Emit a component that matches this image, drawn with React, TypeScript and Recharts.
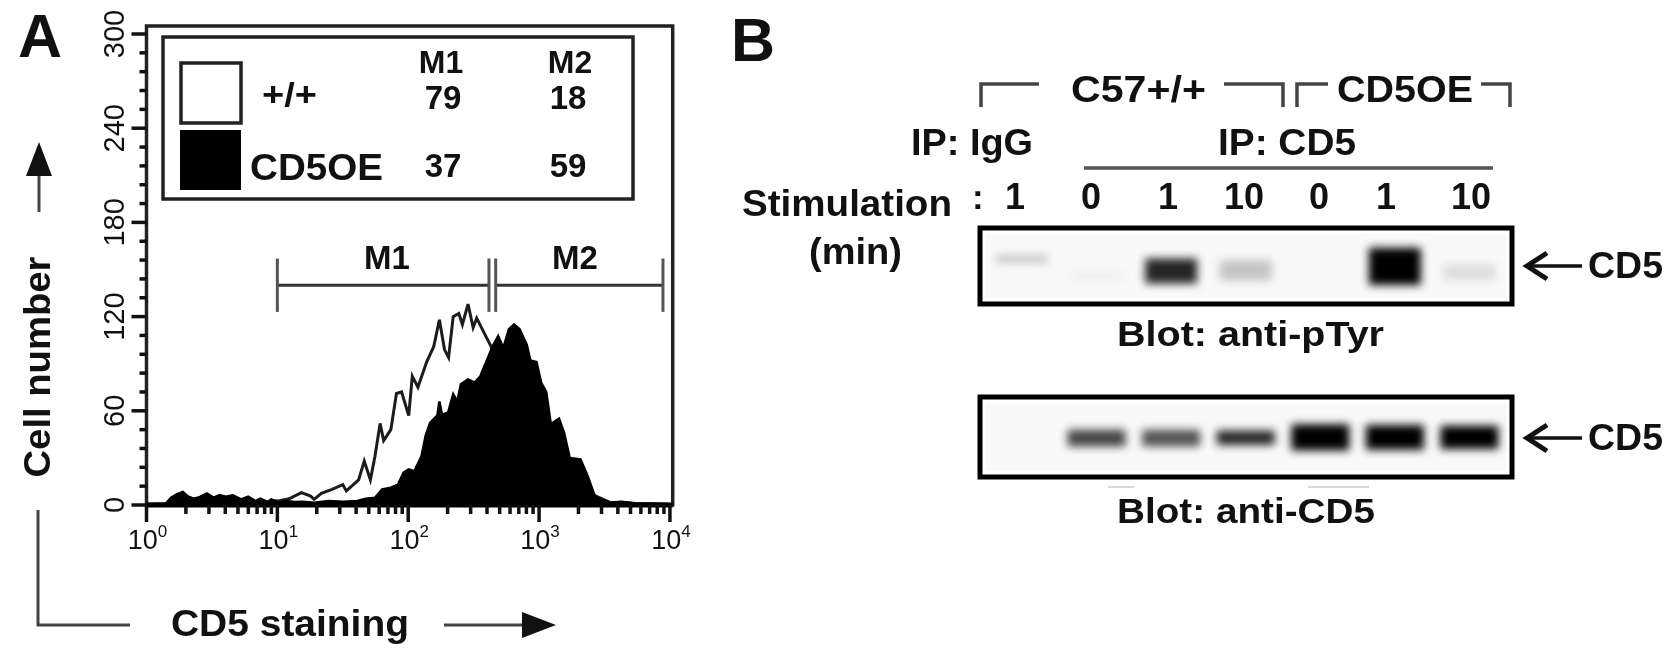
import React from 'react';
import {
  Area,
  Bar,
  BarChart,
  Cell,
  ComposedChart,
  ReferenceArea,
  ReferenceLine,
  XAxis,
  YAxis,
} from 'recharts';

const FONT = '"Liberation Sans", Arial, sans-serif';
const INK = '#111';

// Histogram outlines, as [channel, cells]. 256 channels per decade.
const wildTypeCurve = [
  [0, 0.4], [38, 0.8], [48, 4], [59, 6], [71, 7.5], [80, 5], [92, 3.5], [104, 4.5], [118, 6.5],
  [131, 4], [143, 5.5], [155, 4.5], [169, 5.5], [185, 3], [199, 4.5], [213, 2], [223, 3.5],
  [237, 1.5], [244, 3], [258, 2.5], [279, 4], [303, 7.9], [321, 5.7], [328, 3.6], [342, 7.4],
  [363, 10], [384, 13], [391, 9], [415, 16], [426, 28], [438, 16], [447, 31], [457, 52], [464, 41],
  [478, 48], [489, 71], [499, 72], [513, 57], [520, 82], [531, 75], [548, 91], [562, 101], [573, 118],
  [583, 99], [591, 94], [600, 120], [611, 122], [618, 115], [629, 128], [639, 113], [646, 119],
  [660, 110], [674, 101], [684, 93], [698, 80], [726, 60], [761, 45], [803, 31], [845, 18], [877, 6],
  [908, 1.5], [929, 1.9], [957, 1], [1024, 0.5],
];

const overexpressedCurve = [
  [0, 0.4], [38, 0.8], [48, 4.7], [59, 6.8], [71, 8.3], [80, 5.7], [92, 4], [104, 5], [118, 7.4],
  [131, 4.7], [143, 6.4], [155, 5.3], [169, 6.2], [185, 3.6], [199, 5.3], [213, 2.5], [223, 4],
  [237, 1.9], [244, 3.6], [258, 1.5], [272, 2.5], [290, 1.9], [307, 2.1], [328, 1.5], [356, 2.5],
  [384, 2.1], [412, 2.5], [429, 4], [447, 4.6], [461, 10], [478, 11], [492, 13], [503, 20.6],
  [513, 22.7], [524, 21.6], [538, 31], [546, 44], [555, 52.5], [569, 57], [573, 66], [578, 57.7],
  [590, 58.8], [600, 70.5], [608, 66], [615, 76.9], [629, 80], [642, 78], [653, 82], [667, 93],
  [677, 101], [688, 107.6], [698, 100], [709, 112], [719, 115], [730, 112], [744, 102], [751, 92],
  [763, 91], [772, 78], [782, 72], [791, 51.5], [807, 55], [817, 46], [828, 30], [849, 29],
  [863, 18.5], [877, 5.7], [887, 3.6], [908, 1.5], [929, 1.9], [957, 1], [1024, 0.5],
];

const toSeries = (curve: number[][]) =>
  curve.map(([channel, cells]) => ({ fluorescence: 10 ** (channel / 256), cells }));

const xTicks = [
  1, 2, 3, 4, 5, 6, 7, 8, 9,
  10, 20, 30, 40, 50, 60, 70, 80, 90,
  100, 200, 300, 400, 500, 600, 700, 800, 900,
  1000, 2000, 3000, 4000, 5000, 6000, 7000, 8000, 9000,
  10000,
];
const xMajor: Record<number, string> = { 1: '0', 10: '1', 100: '2', 1000: '3', 10000: '4' };
const yTicks = [
  0, 12, 24, 36, 48, 60, 72, 84, 96, 108, 120, 132, 144, 156, 168, 180, 192, 204, 216, 228, 240,
  252, 264, 276, 288, 300,
];

// marker gates on the histogram
const gateLevel = 140;
const gateCapLow = 123;
const gateCapHigh = 157;
const gateM1 = [10, 414];
const gateM2 = [466, 8850];

const legendHeader = ['M1', 'M2'];
const legendWild = ['79', '18'];
const legendOver = ['37', '59'];

// Blots: band extent as percent of the lane height, and darkness from 0 to 1
const lanes = ['IgG 1', 'C57 0', 'C57 1', 'C57 10', 'OE 0', 'OE 1', 'OE 10'];
const pTyrLow = [54, 31, 27, 31, 0, 25, 31];
const pTyrHigh = [64, 42, 60, 58, 0, 74, 52];
const pTyrDark = [0.2, 0.03, 0.85, 0.2, 0, 1, 0.1];
const cd5Low = [0, 38, 38, 40, 33, 34, 35];
const cd5High = [0, 59, 59, 58, 66, 65, 64];
const cd5Dark = [0, 0.72, 0.66, 0.85, 1, 1, 1];

const stimulationLabels = ['1', '0', '1', '10', '0', '1', '10'];
const stimulationX = [1015, 1091, 1168, 1244, 1319, 1386, 1471];

const XTick = ({ x, y, payload }: any) => {
  const exponent = xMajor[payload.value];
  return (
    <g>
      <line x1={x} x2={x} y1={y} y2={y + (exponent ? 17 : 9)} stroke={INK} strokeWidth={3.5} />
      {exponent && (
        <text x={x + 1} y={y + 44} textAnchor="middle" fontFamily={FONT} fontSize={27} fill={INK}>
          10
          <tspan fontSize={17} dy={-12}>
            {exponent}
          </tspan>
        </text>
      )}
    </g>
  );
};

const YTick = ({ x, y, payload }: any) => {
  const major = payload.value % 60 === 0;
  return (
    <g>
      <line x1={x - (major ? 15 : 7)} x2={x} y1={y} y2={y} stroke={INK} strokeWidth={3.5} />
      {major && (
        <text
          transform={`translate(${x - 23}, ${y}) rotate(-90)`}
          textAnchor="middle"
          fontFamily={FONT}
          fontSize={29}
          fill={INK}
        >
          {payload.value}
        </text>
      )}
    </g>
  );
};

const Histogram = () => (
  <ComposedChart width={700} height={659} margin={{ top: 26, right: 27.3, bottom: 0, left: 0 }}>
    <XAxis
      dataKey="fluorescence"
      type="number"
      scale="log"
      domain={[1, 10500]}
      ticks={xTicks}
      interval={0}
      height={154}
      axisLine={{ stroke: '#000', strokeWidth: 5 }}
      tickLine={false}
      tickSize={0}
      tickMargin={0}
      tick={<XTick />}
    />
    <YAxis
      type="number"
      domain={[0, 305.1]}
      ticks={yTicks}
      interval={0}
      width={146.5}
      axisLine={false}
      tickLine={false}
      tickSize={0}
      tickMargin={0}
      tick={<YTick />}
    />
    <Area
      data={toSeries(wildTypeCurve)}
      dataKey="cells"
      type="linear"
      fill="none"
      stroke="#1c1c1c"
      strokeWidth={3}
      isAnimationActive={false}
    />
    <Area
      data={toSeries(overexpressedCurve)}
      dataKey="cells"
      type="linear"
      fill="#000"
      fillOpacity={1}
      stroke="#000"
      strokeWidth={2.5}
      isAnimationActive={false}
    />
    <ReferenceArea x1={1} x2={10500} y1={0} y2={305.1} fill="none" stroke="#222" strokeWidth={3.5} />
    {[gateM1, gateM2].map((gate) => (
      <React.Fragment key={gate[0]}>
        <ReferenceLine
          segment={[{ x: gate[0], y: gateLevel }, { x: gate[1], y: gateLevel }]}
          stroke="#333"
          strokeWidth={3}
        />
        <ReferenceLine
          segment={[{ x: gate[0], y: gateCapLow }, { x: gate[0], y: gateCapHigh }]}
          stroke="#555"
          strokeWidth={3}
        />
        <ReferenceLine
          segment={[{ x: gate[1], y: gateCapLow }, { x: gate[1], y: gateCapHigh }]}
          stroke="#555"
          strokeWidth={3}
        />
      </React.Fragment>
    ))}
  </ComposedChart>
);

const Blot = ({ low, high, dark, barSize, style }: any) => {
  const table = lanes.map((lane, i) => ({ lane, band: [low[i], high[i]], dark: dark[i] }));
  return (
    <div style={{ position: 'absolute', ...style }}>
      <BarChart
        width={532}
        height={style.height}
        data={table}
        margin={{ top: 0, right: 5, bottom: 0, left: 5 }}
        barSize={barSize}
      >
        <XAxis dataKey="lane" hide />
        <YAxis type="number" domain={[0, 100]} hide />
        <ReferenceArea y1={8} y2={92} fill="#f4f4f4" stroke="none" />
        <Bar dataKey="band" isAnimationActive={false}>
          {table.map((row) => {
            const level = Math.round(245 * (1 - row.dark));
            return (
              <Cell
                key={row.lane}
                fill={`rgb(${level},${level},${level})`}
                style={{ filter: 'blur(4.5px)' }}
              />
            );
          })}
        </Bar>
      </BarChart>
    </div>
  );
};

const Label = ({ children, size = 36, weight = 'bold', fit, ...rest }: any) => (
  <text
    fontFamily={FONT}
    fontSize={size}
    fontWeight={weight}
    fill="#111"
    textLength={fit}
    lengthAdjust={fit ? 'spacingAndGlyphs' : undefined}
    {...rest}
  >
    {children}
  </text>
);

const Overlay = () => (
  <svg
    width={1677}
    height={659}
    style={{ position: 'absolute', left: 0, top: 0, pointerEvents: 'none' }}
  >
    {/* panel A */}
    <Label x={18} y={57} size={61}>A</Label>
    <rect x={163} y={37} width={470} height={162} fill="#fff" stroke="#222" strokeWidth={3.5} />
    <rect x={181} y={63} width={60} height={60} fill="#fff" stroke="#222" strokeWidth={3.5} />
    <rect x={180} y={130} width={61} height={60} fill="#000" />
    <Label x={262} y={106} size={33} fit={55}>+/+</Label>
    <Label x={250} y={180} size={37} fit={133}>CD5OE</Label>
    {legendHeader.map((t, i) => (
      <Label key={t} x={i ? 570 : 441} y={73} size={32} textAnchor="middle">{t}</Label>
    ))}
    {legendWild.map((t, i) => (
      <Label key={t} x={i ? 568 : 443} y={109} size={33} textAnchor="middle">{t}</Label>
    ))}
    {legendOver.map((t, i) => (
      <Label key={t} x={i ? 568 : 443} y={177} size={33} textAnchor="middle">{t}</Label>
    ))}
    <Label x={387} y={269} size={33} textAnchor="middle">M1</Label>
    <Label x={575} y={269} size={33} textAnchor="middle">M2</Label>

    <Label transform="translate(50, 367) rotate(-90)" textAnchor="middle" size={37} fit={221}>Cell number</Label>
    <Label x={171} y={636} size={37} fit={238}>CD5 staining</Label>
    <line x1={39} y1={212} x2={39} y2={150} stroke="#444" strokeWidth={3} />
    <path d="M39,142 L52,176 L26,176 Z" fill="#111" />
    <path d="M38,510 L38,625 L130,625" fill="none" stroke="#444" strokeWidth={3} />
    <line x1={444} y1={625} x2={525} y2={625} stroke="#444" strokeWidth={3} />
    <path d="M556,625 L522,612 L522,638 Z" fill="#111" />

    {/* panel B */}
    <Label x={731} y={61} size={61}>B</Label>
    <g fill="none" stroke="#444" strokeWidth={3.5}>
      <path d="M981,107 L981,84 L1039,84" />
      <path d="M1224,84 L1283,84 L1283,107" />
      <path d="M1297,107 L1297,84 L1328,84" />
      <path d="M1481,84 L1510,84 L1510,107" />
    </g>
    <Label x={1071} y={102} size={37} fit={135}>C57+/+</Label>
    <Label x={1337} y={102} size={37} fit={136}>CD5OE</Label>
    <Label x={911} y={155} size={36} fit={122}>IP: IgG</Label>
    <Label x={1218} y={155} size={36} fit={138}>IP: CD5</Label>
    <line x1={1084} y1={168} x2={1493} y2={168} stroke="#555" strokeWidth={3.5} />
    <Label x={742} y={216} size={36} fit={210}>Stimulation</Label>
    <Label x={972} y={209} size={35}>:</Label>
    <Label x={809} y={264} size={36} fit={93}>(min)</Label>
    {stimulationLabels.map((t, i) => (
      <Label key={i} x={stimulationX[i]} y={209} size={36} textAnchor="middle">{t}</Label>
    ))}
    <rect x={980} y={228} width={532} height={76} fill="none" stroke="#000" strokeWidth={5} />
    <rect x={980} y={397} width={532} height={80} fill="none" stroke="#000" strokeWidth={5} />
    <Label x={1117} y={346} size={35} fit={267}>Blot: anti-pTyr</Label>
    <Label x={1117} y={523} size={35} fit={258}>Blot: anti-CD5</Label>
    <g stroke="#ccc" strokeWidth={1.5}>
      <line x1={1108} y1={487} x2={1134} y2={487} />
      <line x1={1308} y1={487} x2={1369} y2={487} />
    </g>
    {[266, 438].map((y) => (
      <g key={y}>
        <line x1={1527} y1={y} x2={1582} y2={y} stroke="#111" strokeWidth={3.5} />
        <path d={`M1547,${y - 13} L1527,${y} L1547,${y + 13}`} fill="none" stroke="#111" strokeWidth={5} />
        <Label x={1588} y={y + 12} size={36} fit={75}>CD5</Label>
      </g>
    ))}
  </svg>
);

export default function App() {
  return (
    <div
      style={{
        position: 'absolute',
        left: 0,
        top: 0,
        width: 1677,
        height: 659,
        background: '#fff',
        overflow: 'hidden',
        filter: 'blur(0.5px)',
      }}
    >
      <Histogram />
      <Blot
        low={pTyrLow}
        high={pTyrHigh}
        dark={pTyrDark}
        barSize={52}
        style={{ left: 980, top: 228, width: 532, height: 76 }}
      />
      <Blot
        low={cd5Low}
        high={cd5High}
        dark={cd5Dark}
        barSize={58}
        style={{ left: 980, top: 397, width: 532, height: 80 }}
      />
      <Overlay />
    </div>
  );
}
